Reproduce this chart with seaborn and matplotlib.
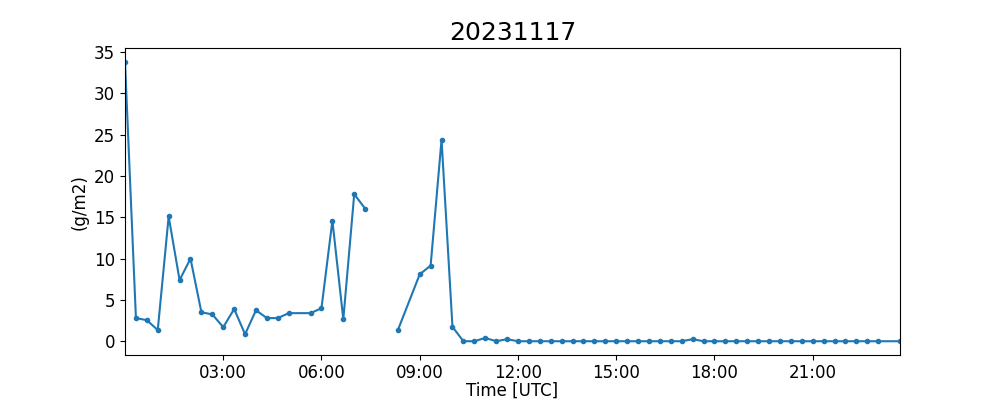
import matplotlib
matplotlib.use("Agg")
import matplotlib.pyplot as plt
import matplotlib.dates as mdates
import seaborn as sns
import numpy as np
import pandas as pd

# thoi gian (UTC) va gia tri (g/m2); NaN = mat du lieu -> duong bi ngat
times = [
    "00:00", "00:20", "00:40", "01:00", "01:20", "01:40", "02:00", "02:20",
    "02:40", "03:00", "03:20", "03:40", "04:00", "04:20", "04:40", "05:00",
    "05:40", "06:00", "06:20", "06:40", "07:00", "07:20", "07:40", "08:00",
    "08:20", "09:00", "09:20", "09:40", "10:00", "10:20", "10:40", "11:00",
    "11:20", "11:40", "12:00", "12:20", "12:40", "13:00", "13:20", "13:40",
    "14:00", "14:20", "14:40", "15:00", "15:20", "15:40", "16:00", "16:20",
    "16:40", "17:00", "17:20", "17:40", "18:00", "18:20", "18:40", "19:00",
    "19:20", "19:40", "20:00", "20:20", "20:40", "21:00", "21:20", "21:40",
    "22:00", "22:20", "22:40", "23:00", "23:40",
]
values = [
    33.8, 2.8, 2.55, 1.35, 15.1, 7.4, 10.0, 3.5,
    3.25, 1.7, 3.9, 0.85, 3.75, 2.8, 2.8, 3.4,
    3.4, 4.0, 14.6, 2.65, 17.8, 16.05, np.nan, np.nan,
    1.35, 8.1, 9.15, 24.4, 1.75, 0.0, 0.0, 0.4,
    0.0, 0.25, 0.0, 0.0, 0.0, 0.0, 0.0, 0.0,
    0.0, 0.0, 0.0, 0.0, 0.0, 0.0, 0.0, 0.0,
    0.0, 0.0, 0.25, 0.0, 0.0, 0.0, 0.0, 0.0,
    0.0, 0.0, 0.0, 0.0, 0.0, 0.0, 0.0, 0.0,
    0.0, 0.0, 0.0, 0.0, 0.0,
]
date_str = "20231117"

df = pd.DataFrame({
    "time": pd.to_datetime(date_str + " " + pd.Series(times), format="%Y%m%d %H:%M"),
    "value": values,
})
# doan lien tuc: tach tai cac gia tri NaN
df["seg"] = df["value"].isna().cumsum()
df = df.dropna()

fig, ax = plt.subplots(figsize=(10, 4), dpi=100)
sns.lineplot(data=df, x="time", y="value", units="seg", estimator=None,
             color="#1f77b4", marker=".", markersize=6,
             markeredgecolor="#1f77b4", markeredgewidth=1, linewidth=1.5, ax=ax)

ax.set_xlim(df["time"].min(), df["time"].max())
ax.xaxis.set_major_locator(mdates.HourLocator(byhour=range(3, 24, 3)))
ax.xaxis.set_major_formatter(mdates.DateFormatter("%H:%M"))
ax.tick_params(labelsize=12)
ax.tick_params(axis="x", pad=2.5)
ax.set_xlabel("Time [UTC]", fontsize=12, labelpad=0)
ax.set_ylabel("(g/m2)", fontsize=12)
ax.set_title(date_str, fontsize=18)

fig.subplots_adjust(left=0.125, right=0.9, bottom=0.112, top=0.88)
fig.savefig("out.png", dpi=100)
